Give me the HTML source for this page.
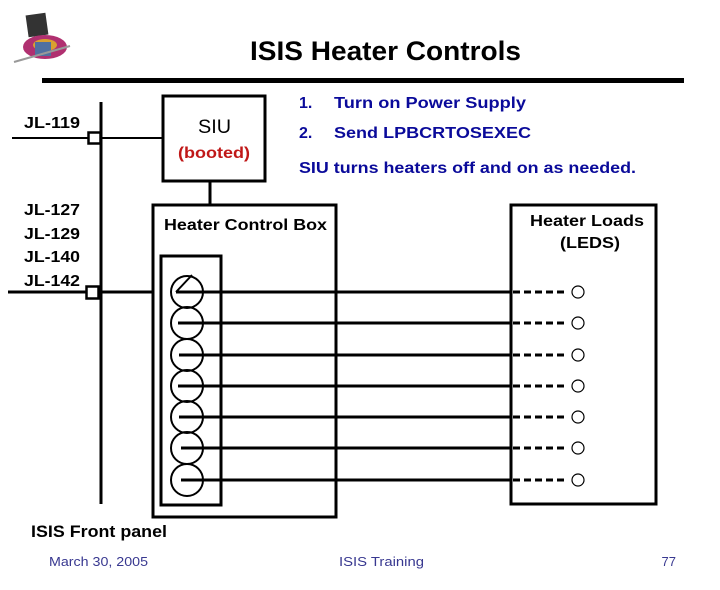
<!DOCTYPE html>
<html><head><meta charset="utf-8"><style>
html,body{margin:0;padding:0;background:#fff;}
svg{display:block;font-family:"Liberation Sans",Arial,sans-serif;font-weight:bold;}
</style></head><body>
<svg width="720" height="590" viewBox="0 0 720 590" xmlns="http://www.w3.org/2000/svg">
<rect x="27" y="14" width="20" height="22" fill="#333" transform="rotate(-8 37 25)"/>
<ellipse cx="45" cy="47" rx="22" ry="12" fill="#b03070"/>
<ellipse cx="45" cy="45" rx="12" ry="6" fill="#d9a030"/>
<rect x="35" y="42" width="16" height="14" fill="#5070a0"/>
<line x1="14" y1="62" x2="70" y2="46" stroke="#999" stroke-width="2"/>
<text x="250" y="60" font-size="27" textLength="271" lengthAdjust="spacingAndGlyphs" fill="#000">ISIS Heater Controls</text>
<rect x="42" y="78" width="642" height="5" fill="#000"/>
<line x1="101" y1="102" x2="101" y2="504" stroke="#000" stroke-width="3"/>
<line x1="12" y1="138" x2="163" y2="138" stroke="#000" stroke-width="2"/>
<rect x="88.5" y="132.5" width="12" height="11" fill="#fff" stroke="#000" stroke-width="2.5"/>
<line x1="8" y1="292" x2="153" y2="292" stroke="#000" stroke-width="3"/>
<rect x="86.5" y="286.5" width="12" height="12" fill="#fff" stroke="#000" stroke-width="2.5"/>
<g font-size="16" fill="#000">
<text x="24" y="128" textLength="56" lengthAdjust="spacingAndGlyphs">JL-119</text>
<text x="24" y="215" textLength="56" lengthAdjust="spacingAndGlyphs">JL-127</text>
<text x="24" y="239" textLength="56" lengthAdjust="spacingAndGlyphs">JL-129</text>
<text x="24" y="262" textLength="56" lengthAdjust="spacingAndGlyphs">JL-140</text>
<text x="24" y="286" textLength="56" lengthAdjust="spacingAndGlyphs">JL-142</text>
</g>
<rect x="163" y="96" width="102" height="85" fill="none" stroke="#000" stroke-width="3"/>
<text x="198" y="133" font-size="19" textLength="33" lengthAdjust="spacingAndGlyphs" style="font-weight:normal">SIU</text>
<text x="178" y="158" font-size="16" textLength="72" lengthAdjust="spacingAndGlyphs" fill="#c01818">(booted)</text>
<line x1="210" y1="181" x2="210" y2="205" stroke="#000" stroke-width="3"/>
<g font-size="16" fill="#0a0a9a">
<text x="299" y="108">1.</text><text x="334" y="108" textLength="192" lengthAdjust="spacingAndGlyphs">Turn on Power Supply</text>
<text x="299" y="138">2.</text><text x="334" y="138" textLength="197" lengthAdjust="spacingAndGlyphs">Send LPBCRTOSEXEC</text>
<text x="299" y="173" textLength="337" lengthAdjust="spacingAndGlyphs">SIU turns heaters off and on as needed.</text>
</g>
<rect x="153" y="205" width="183" height="312" fill="none" stroke="#000" stroke-width="3"/>
<text x="164" y="230" font-size="16" textLength="163" lengthAdjust="spacingAndGlyphs">Heater Control Box</text>
<rect x="161" y="256" width="60" height="249" fill="none" stroke="#000" stroke-width="3"/>
<rect x="511" y="205" width="145" height="299" fill="none" stroke="#000" stroke-width="3"/>
<text x="530" y="226" font-size="16" textLength="114" lengthAdjust="spacingAndGlyphs">Heater Loads</text>
<text x="560" y="248" font-size="16" textLength="60" lengthAdjust="spacingAndGlyphs">(LEDS)</text>
<g stroke="#000" fill="none">
<g stroke-width="2">
<circle cx="187" cy="292" r="16"/><circle cx="187" cy="323" r="16"/><circle cx="187" cy="355" r="16"/>
<circle cx="187" cy="386" r="16"/><circle cx="187" cy="417" r="16"/><circle cx="187" cy="448" r="16"/>
<circle cx="187" cy="480" r="16"/>
<line x1="176" y1="292" x2="192" y2="275"/>
</g>
<g stroke-width="3">
<line x1="176" y1="292" x2="512" y2="292"/><line x1="178" y1="323" x2="512" y2="323"/>
<line x1="179" y1="355" x2="512" y2="355"/><line x1="178" y1="386" x2="512" y2="386"/>
<line x1="179" y1="417" x2="512" y2="417"/><line x1="181" y1="448" x2="512" y2="448"/>
<line x1="181" y1="480" x2="512" y2="480"/>
</g>
<g stroke-width="3" stroke-dasharray="7,4">
<line x1="513" y1="292" x2="566" y2="292"/><line x1="513" y1="323" x2="566" y2="323"/>
<line x1="513" y1="355" x2="566" y2="355"/><line x1="513" y1="386" x2="566" y2="386"/>
<line x1="513" y1="417" x2="566" y2="417"/><line x1="513" y1="448" x2="566" y2="448"/>
<line x1="513" y1="480" x2="566" y2="480"/>
</g>
<g stroke-width="1.2">
<circle cx="578" cy="292" r="6"/><circle cx="578" cy="323" r="6"/><circle cx="578" cy="355" r="6"/>
<circle cx="578" cy="386" r="6"/><circle cx="578" cy="417" r="6"/><circle cx="578" cy="448" r="6"/>
<circle cx="578" cy="480" r="6"/>
</g>
</g>
<text x="31" y="537" font-size="17" textLength="136" lengthAdjust="spacingAndGlyphs">ISIS Front panel</text>
<g font-size="13" fill="#383890" style="font-weight:normal">
<text x="49" y="566" textLength="99" lengthAdjust="spacingAndGlyphs">March 30, 2005</text>
<text x="339" y="566" textLength="85" lengthAdjust="spacingAndGlyphs">ISIS Training</text>
<text x="676" y="566" text-anchor="end">77</text>
</g>
</svg>
</body></html>
